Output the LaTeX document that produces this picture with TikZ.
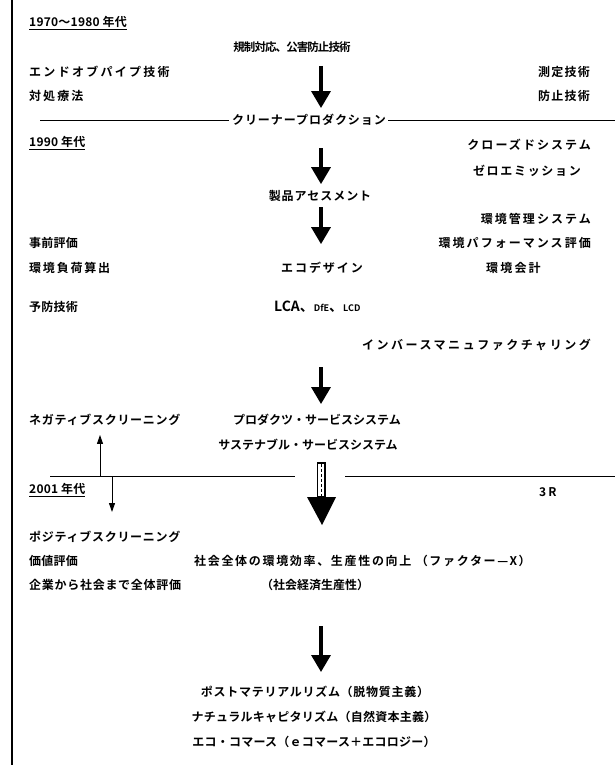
\documentclass[tikz,border=0pt]{standalone}
\usepackage{fontspec}
\setmainfont{Noto Sans CJK JP}[BoldFont={Noto Sans CJK JP Bold}]
\newfontfamily\jpn{Noto Sans CJK JP Bold}
\usetikzlibrary{arrows.meta}
\tikzset{
  t/.style={inner sep=0pt, font=\jpn\fontsize{12}{13}\selectfont},
  ls/.style={font=\jpn\fontsize{12}{13}\selectfont\addfontfeature{LetterSpace=#1}},
  tl/.style={t, anchor=west},
  tr/.style={t, anchor=east},
  bigarr/.style={line width=3.4pt, -{Triangle[width=19pt,length=17pt]}},
  smallarr/.style={line width=1pt, -{Triangle[width=6pt,length=9pt]}},
  rule/.style={line width=0.9pt},
}
\begin{document}
\begin{tikzpicture}[x=1pt,y=-1pt]
\useasboundingbox (0,0) rectangle (615,765);
\draw[line width=1.6pt] (12,0) -- (12,765);

% 1970-1980
\node[tl, ls=2] (d70) at (29,23) {\underline{1970\char"301C 1980 年代}};
\node[t, font=\jpn\fontsize{11.5}{12}\selectfont\addfontfeature{LetterSpace=-8}] (kisei) at (292,47) {規制対応、公害防止技術};
\node[tl, ls=19] (eop) at (29,72) {エンドオブパイプ技術};
\node[tl, ls=17] (taisho) at (29,96) {対処療法};
\node[tr, ls=10] (sokutei) at (590,72) {測定技術};
\node[tr, ls=10] (boshi) at (590,96) {防止技術};
\coordinate (a1s) at (321,66);
\node[t, ls=8] (cp) at (309,120) {クリーナープロダクション};
\draw[bigarr] (a1s) -- ([yshift=6pt]cp.north -| a1s);
\coordinate (l1a) at (40,120);
\coordinate (l1b) at (615,120);
\draw[rule] (l1a) -- ([xshift=-3pt]cp.west);
\draw[rule] ([xshift=2pt]cp.east) -- (l1b);

% 1990
\node[tl, ls=2] (d90) at (29,143) {\underline{1990 年代}};
\node[tr, ls=17] (closed) at (591,145) {クローズドシステム};
\node[tr, ls=14] (zero) at (581,171) {ゼロエミッション};
\node[t, ls=8] (seihin) at (320,196) {製品アセスメント};
\coordinate (a2s) at (321,148);
\draw[bigarr] (a2s) -- ([yshift=6pt]seihin.north -| a2s);
\node[tr, ls=17] (ems) at (591,219) {環境管理システム};
\node[tr, ls=17] (epe) at (591,243) {環境パフォーマンス評価};
\node[tl, ls=18] (kaikei) at (486,268) {環境会計};
\node[tl, ls=2] (jizen) at (29,243) {事前評価};
\node[tl, ls=15] (fuka) at (29,268) {環境負荷算出};
\node[tl, ls=2] (yobo) at (29,307) {予防技術};
\node[t, ls=16] (eco) at (322,268) {エコデザイン};
\coordinate (a3s) at (321,207);
\draw[bigarr] (a3s) -- ([yshift=18pt]eco.north -| a3s);
\node[tl, font=\jpn\fontsize{14}{15}\selectfont] (lca) at (274,307) {LCA、{\fontsize{9}{10}\selectfont DfE}、{\fontsize{9}{10}\selectfont LCD}};
\node[tr, ls=21] (inv) at (591,345) {インバースマニュファクチャリング};

% 2000s
\coordinate (a4s) at (321,367);
\node[tl, ls=6] (neg) at (29,420) {ネガティブスクリーニング};
\node[t, ls=0] (pss) at (317,420) {プロダクツ・サービスシステム};
\node[t, ls=0] (sss) at (308,445) {サステナブル・サービスシステム};
\draw[bigarr] (a4s) -- ([yshift=10pt]pss.north -| a4s);

\coordinate (l2a) at (50,476);
\coordinate (l2b) at (295,476);
\coordinate (l2c) at (345,476);
\coordinate (l2d) at (615,476);
\draw[rule] (l2a) -- (l2b);
\draw[rule] (l2c) -- (l2d);

\coordinate (up0) at (100,476);
\draw[smallarr] (up0) -- ([yshift=-9pt]neg.south -| up0);
\node[tl, ls=2] (d01) at (29,490) {\underline{2001 年代}};
\coordinate (dn0) at (112,476);
\coordinate (dn1) at (112,512);
\draw[smallarr] (dn0) -- (dn1);

% big arrow
\coordinate (bshaft) at (321,463);
\coordinate (bhead) at (322,525);
\draw[line width=1.3pt, fill=white] (317.5,463) rectangle (325,497);
\draw[line width=0.6pt, densely dashed] (321.2,464) -- (321.2,496);
\fill (307,497) -- (336,497) -- (bhead) -- cycle;

\node[tl, ls=0] (r3) at (539,492) {3\,R};
\node[tl, ls=6] (pos) at (29,537) {ポジティブスクリーニング};
\node[tl, ls=2] (kachi) at (29,561) {価値評価};
\node[tl, ls=14] (shakai) at (194,561) {社会全体の環境効率、生産性の向上 （ファクター\char"2014 X）};
\node[tl, ls=6] (kigyo) at (29,585) {企業から社会まで全体評価};
\node[tl, ls=0] (sekei) at (261,585) {（社会経済生産性）};

\node[t, ls=6] (post) at (315,692) {ポストマテリアルリズム（脱物質主義）};
\coordinate (a5s) at (321,626);
\draw[bigarr] (a5s) -- ([yshift=14pt]post.north -| a5s);
\node[t, ls=2] (nat) at (314,717) {ナチュラルキャピタリズム（自然資本主義）};
\node[t, ls=2] (ecom) at (314,742) {エコ・コマース（ｅコマース＋エコロジー）};
\end{tikzpicture}
\end{document}
